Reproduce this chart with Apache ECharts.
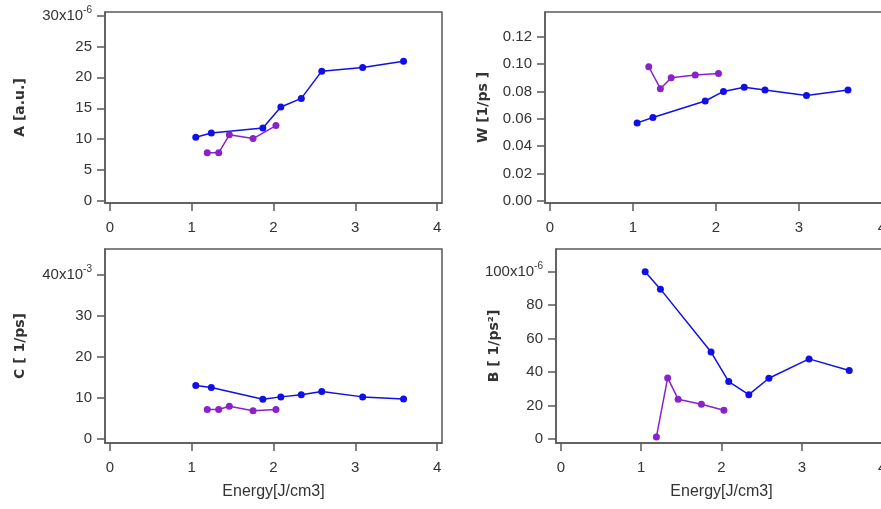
<!DOCTYPE html>
<html>
<head>
<meta charset="utf-8">
<script src="https://cdn.jsdelivr.net/npm/echarts@6/dist/echarts.min.js"></script>
<style>
  html, body { margin: 0; padding: 0; background: #fff; }
  #chart { width: 881px; height: 509px; }
</style>
</head>
<body>
<div id="chart"></div>
<script>
// energy values (J/cm3) for the two data sets
const energyBlue = [1.05, 1.24, 1.87, 2.09, 2.34, 2.59, 3.09, 3.59];
const energyPurple = [1.19, 1.33, 1.46, 1.75, 2.03];

// A [a.u.] in units of 1e-6
const aBlue = [10.3, 11.0, 11.8, 15.2, 16.6, 21.0, 21.6, 22.6];
const aPurple = [7.8, 7.8, 10.7, 10.1, 12.2];
// W [1/ps]
const wBlue = [0.057, 0.061, 0.073, 0.080, 0.083, 0.081, 0.077, 0.081];
const wPurple = [0.098, 0.082, 0.090, 0.092, 0.093];
// C [1/ps] in units of 1e-3
const cBlue = [13.0, 12.5, 9.6, 10.2, 10.7, 11.5, 10.2, 9.7];
const cPurple = [7.1, 7.1, 7.9, 6.8, 7.1];
// B [1/ps^2] in units of 1e-6
const bBlue = [100, 89.6, 52.0, 34.3, 26.5, 36.3, 47.9, 40.9];
const bPurple = [1.2, 36.5, 23.8, 20.8, 17.2];

// tick labels
const xTicks = [0, 1, 2, 3, 4];
const aTicks = [0, 5, 10, 15, 20, 25, 30];
const wTicks = [0, 0.02, 0.04, 0.06, 0.08, 0.10, 0.12];
const cTicks = [0, 10, 20, 30, 40];
const bTicks = [0, 20, 40, 60, 80, 100];

const BLUE = '#1010e6';
const PURPLE = '#8a22cc';
const AXIS = '#5a5a5a';
const LABEL_FONT = '"Liberation Sans", Arial, sans-serif';
const NAME_FONT = '"DejaVu Sans", Verdana, sans-serif';

const zip = (xs, ys) => xs.map((x, i) => [x, ys[i]]);

function xAxis(gridIndex, withName) {
    return {
        type: 'value',
        gridIndex,
        min: -0.06,
        max: 4.06,
        name: withName ? 'Energy[J/cm3]' : '',
        nameLocation: 'middle',
        nameGap: 41,
        nameMoveOverlap: false,
        nameTextStyle: { fontFamily: LABEL_FONT, fontSize: 16, color: '#333' },
        axisLine: { show: true, onZero: false, lineStyle: { color: AXIS, width: 1.5 } },
        axisTick: { show: true, length: 8, customValues: xTicks, lineStyle: { color: AXIS, width: 1.5 } },
        axisLabel: { customValues: xTicks, margin: 17, fontFamily: LABEL_FONT, fontSize: 15, color: '#333' },
        splitLine: { show: false }
    };
}

function yAxis(gridIndex, name, gap, min, max, ticks, formatter) {
    return {
        type: 'value',
        gridIndex,
        min,
        max,
        name,
        nameLocation: 'middle',
        nameGap: gap,
        nameMoveOverlap: false,
        nameTextStyle: { fontFamily: NAME_FONT, fontSize: 14, fontWeight: 'bold', color: '#333' },
        axisLine: { show: true, onZero: false, lineStyle: { color: AXIS, width: 1.5 } },
        axisTick: { show: true, length: 8, customValues: ticks, lineStyle: { color: AXIS, width: 1.5 } },
        axisLabel: {
            customValues: ticks,
            margin: 13,
            fontFamily: LABEL_FONT,
            fontSize: 15,
            color: '#333',
            formatter,
            rich: { sup: { fontFamily: LABEL_FONT, fontSize: 10, color: '#333', padding: [0, 0, 10, 0] } }
        },
        splitLine: { show: false }
    };
}

function line(xi, data, color) {
    return {
        type: 'line',
        xAxisIndex: xi,
        yAxisIndex: xi,
        data,
        symbol: 'circle',
        symbolSize: 7,
        itemStyle: { color },
        lineStyle: { color, width: 1.5 },
        animation: false
    };
}

const frame = {
    show: true,
    borderColor: AXIS,
    borderWidth: 1.5,
    backgroundColor: 'transparent',
    containLabel: false,
    outerBoundsMode: 'none'
};

const chart = echarts.init(document.getElementById('chart'));
chart.setOption({
    backgroundColor: '#fff',
    animation: false,
    grid: [
        { left: 105, top: 12, width: 337, height: 191, ...frame },
        { left: 545, top: 12, width: 342, height: 191, ...frame },
        { left: 105, top: 249, width: 337, height: 194, ...frame },
        { left: 556, top: 249, width: 331, height: 194, ...frame }
    ],
    xAxis: [xAxis(0, false), xAxis(1, false), xAxis(2, true), xAxis(3, true)],
    yAxis: [
        yAxis(0, 'A [a.u.]', 78, -0.32, 30.57, aTicks, v => v === 30 ? '30x10{sup|-6}' : String(v)),
        yAxis(1, 'W [1/ps ]', 55, -0.0015, 0.138, wTicks, v => v.toFixed(2)),
        yAxis(2, 'C [ 1/ps]', 78, -1.05, 46.27, cTicks, v => v === 40 ? '40x10{sup|-3}' : String(v)),
        yAxis(3, 'B [ 1/ps²]', 55, -2.4, 113.6, bTicks, v => v === 100 ? '100x10{sup|-6}' : String(v))
    ],
    series: [
        line(0, zip(energyBlue, aBlue), BLUE),
        line(0, zip(energyPurple, aPurple), PURPLE),
        line(1, zip(energyBlue, wBlue), BLUE),
        line(1, zip(energyPurple, wPurple), PURPLE),
        line(2, zip(energyBlue, cBlue), BLUE),
        line(2, zip(energyPurple, cPurple), PURPLE),
        line(3, zip(energyBlue, bBlue), BLUE),
        line(3, zip(energyPurple, bPurple), PURPLE)
    ]
});
</script>
</body>
</html>
